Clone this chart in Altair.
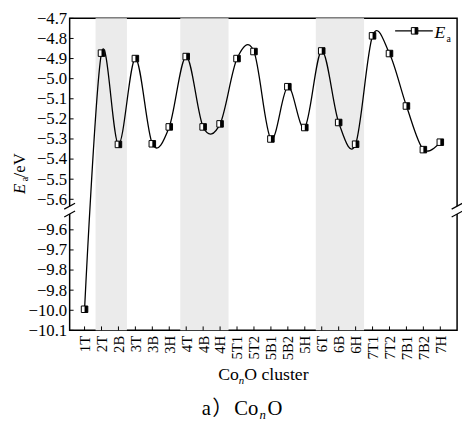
import altair as alt
import pandas as pd

# ---------------- data ----------------
categories = ["1T", "2T", "2B", "3T", "3B", "3H", "4T", "4B", "4H", "5T1", "5T2",
              "5B1", "5B2", "5H", "6T", "6B", "6H", "7T1", "7T2", "7B1", "7B2", "7H"]
values = [-9.995, -4.873, -5.327, -4.900, -5.324, -5.240, -4.890, -5.240, -5.225,
          -4.900, -4.865, -5.300, -5.040, -5.243, -4.862, -5.218, -5.326, -4.787,
          -4.875, -5.136, -5.353, -5.316]
shade_start = ["2T", "4T", "6T"]
shade_end = ["2B", "4H", "6H"]
y_tick_values = [-4.7, -4.8, -4.9, -5.0, -5.1, -5.2, -5.3, -5.4, -5.5, -5.6,
                 -9.6, -9.7, -9.8, -9.9, -10.0, -10.1]
y_tick_labels = ["\u22124.7", "\u22124.8", "\u22124.9", "\u22125.0", "\u22125.1", "\u22125.2",
                 "\u22125.3", "\u22125.4", "\u22125.5", "\u22125.6",
                 "\u22129.6", "\u22129.7", "\u22129.8", "\u22129.8", "\u221210.0", "\u221210.1"]

# broken axis: lower segment is shifted up
BREAK_OFFSET = 3.848
LOWER_LIMIT = -7.0


def to_plot(v):
    return v + BREAK_OFFSET if v < LOWER_LIMIT else v


W, H = 394, 317.3
FONT = "Liberation Serif, Times New Roman, DejaVu Serif, serif"
x_dom = [-0.88, 21.99]
y_dom = [round(to_plot(-10.1), 4), -4.7]

df = pd.DataFrame({"idx": list(range(len(categories))), "cat": categories, "val": values})
df["yp"] = df["val"].apply(to_plot)

shade = pd.DataFrame({
    "idx": [categories.index(c) - 0.35 for c in shade_start],
    "e": [categories.index(c) + 0.5 for c in shade_end],
})

ticks_y = pd.DataFrame({"yp": [round(to_plot(v), 4) for v in y_tick_values]})
one = pd.DataFrame({"k": [0]})

x_label_expr = " : ".join(f"datum.value == {i} ? '{c}'" for i, c in enumerate(categories)) + " : ''"
y_label_expr = " : ".join(
    f"abs(datum.value - ({tv})) < 0.001 ? '{lab}'"
    for tv, lab in zip(ticks_y["yp"], y_tick_labels)) + " : ''"

xs = alt.Scale(domain=x_dom, nice=False, zero=False)
ys = alt.Scale(domain=y_dom, nice=False, zero=False)

x_axis = alt.Axis(values=list(range(len(categories))), labelExpr=x_label_expr,
                  labelAngle=270, labelFont=FONT, labelFontSize=15, labelColor="black",
                  labelPadding=5, labelOverlap=False, labelBound=False,
                  ticks=False, domain=False, grid=False, title=None)
y_axis = alt.Axis(values=list(ticks_y["yp"]), labelExpr=y_label_expr,
                  labelFont=FONT, labelFontSize=17, labelColor="black",
                  labelPadding=3, labelOverlap=False, labelBound=False,
                  ticks=False, domain=False, grid=False, title=None)

X = alt.X("idx:Q", scale=xs, axis=x_axis)
Y = alt.Y("yp:Q", scale=ys, axis=y_axis)

rects = alt.Chart(shade).mark_rect(color="#ebebeb").encode(
    x=X, x2="e:Q", y=alt.value(0), y2=alt.value(H))

line = alt.Chart(df).mark_line(interpolate="cardinal", tension=0, color="black",
                               strokeWidth=1.3).encode(x=X, y=Y)

sq = alt.Chart(df).mark_point(shape="square", filled=True, fill="white", stroke="black",
                              strokeWidth=1, size=44, opacity=1).encode(x=X, y=Y)
half = alt.Chart(df).mark_point(shape="M0,-1L1,-1L1,1L0,1Z", filled=True, fill="black",
                                strokeWidth=0, size=44, opacity=1).encode(x=X, y=Y)

xticks = alt.Chart(df).mark_rule(color="black", strokeWidth=1).encode(
    x=X, y=alt.value(H), y2=alt.value(H - 4))
yticks = alt.Chart(ticks_y).mark_rule(color="black", strokeWidth=1).encode(
    y=Y, x=alt.value(0), x2=alt.value(4))

# axis break marks
deco = []
for bx in [0, W]:
    deco.append(alt.Chart(one).mark_rule(color="white", strokeWidth=5).encode(
        x=alt.value(bx), y=alt.value(191), y2=alt.value(199)))
    for by in [191, 199]:
        deco.append(alt.Chart(one).mark_rule(color="black", strokeWidth=1.2).encode(
            x=alt.value(bx - 5.5), y=alt.value(by + 3), x2=alt.value(bx + 5.5), y2=alt.value(by - 3)))


def txt(t, x, y, size, italic=False, angle=0, align="left", font=FONT):
    kw = dict(text=t, font=font, fontSize=size, color="black", align=align, baseline="alphabetic")
    if italic:
        kw["fontStyle"] = "italic"
    if angle:
        kw["angle"] = angle
    return alt.Chart(one).mark_text(**kw).encode(x=alt.value(x), y=alt.value(y))


texts = [
    # y title  E_a/eV
    txt("E", -45.7, 173.5, 17, italic=True, angle=270, align="center"),
    txt("a", -42.5, 163.5, 10, angle=270, align="center"),
    txt("/eV", -45.7, 149.5, 17, angle=270, align="center"),
    # x title  Co_nO cluster
    txt("Co", 151, 368, 18),
    txt("n", 172, 372, 11, italic=True),
    txt("O cluster", 177.5, 368, 18),
    # caption  a）Co_nO
    txt("a", 134.3, 403, 21),
    txt("\uff09", 145, 403, 21, font="Noto Sans CJK SC"),
    txt("Co", 167.3, 403, 21),
    txt("n", 193, 407, 13, italic=True),
    txt("O", 201.3, 403, 21),
    # legend label
    txt("E", 371, 20, 18, italic=True),
    txt("a", 383.3, 24.5, 10),
]

leg_line = alt.Chart(one).mark_rule(color="black", strokeWidth=1.3).encode(
    x=alt.value(331), x2=alt.value(369.3), y=alt.value(12.7))
leg_sq = alt.Chart(one).mark_point(shape="square", filled=True, fill="white", stroke="black",
                                   strokeWidth=1, size=44, opacity=1).encode(
    x=alt.value(350.8), y=alt.value(12.7))
leg_half = alt.Chart(one).mark_point(shape="M0,-1L1,-1L1,1L0,1Z", filled=True, fill="black",
                                     strokeWidth=0, size=44, opacity=1).encode(
    x=alt.value(350.8), y=alt.value(12.7))

chart = alt.layer(rects, line, sq, half, xticks, yticks, *deco, *texts,
                  leg_line, leg_sq, leg_half).properties(
    width=W, height=H, autosize="none",
    padding={"left": 62.7, "top": 7, "right": 5, "bottom": 92},
    background="white",
).configure_view(stroke="black", strokeWidth=1.5)

chart.save("out.html", embed_options={"renderer": "svg", "actions": False})
